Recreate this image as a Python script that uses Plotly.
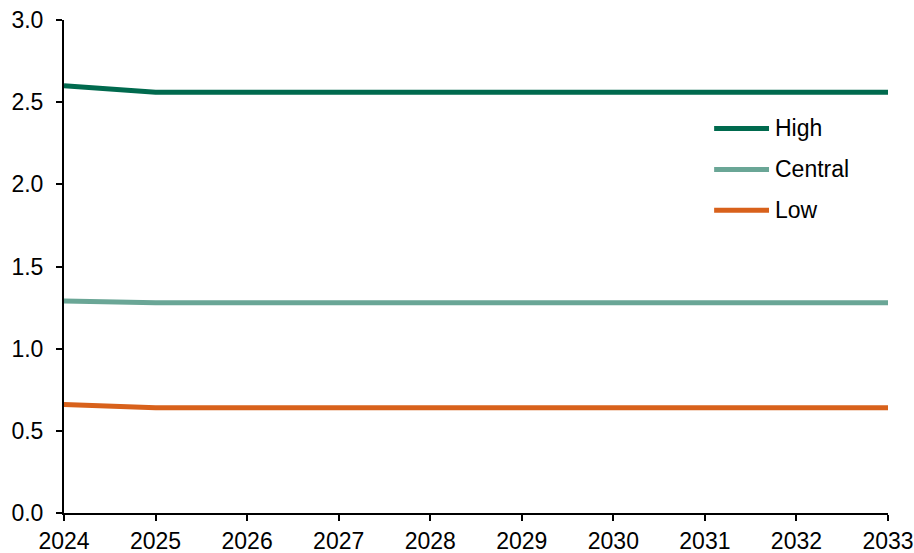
import plotly.graph_objects as go

years = [2024, 2025, 2026, 2027, 2028, 2029, 2030, 2031, 2032, 2033]
high = [2.60, 2.56, 2.56, 2.56, 2.56, 2.56, 2.56, 2.56, 2.56, 2.56]
central = [1.29, 1.28, 1.28, 1.28, 1.28, 1.28, 1.28, 1.28, 1.28, 1.28]
low = [0.66, 0.64, 0.64, 0.64, 0.64, 0.64, 0.64, 0.64, 0.64, 0.64]

series = [
    ("High", high, "#006a4e"),
    ("Central", central, "#6aa696"),
    ("Low", low, "#d8611b"),
]

FONT = "Liberation Sans, Arial, sans-serif"
FSIZE = 23

fig = go.Figure()
for name, vals, color in series:
    fig.add_trace(go.Scatter(
        x=years, y=vals, name=name, mode="lines",
        line=dict(color=color, width=5),
        showlegend=False,
    ))

# Hand-built legend: short line swatch plus label, stacked
legend_x0, legend_x1, text_x = 0.789, 0.8556, 0.8604
legend_y = [0.780, 0.697, 0.614]
for (name, _, color), ly in zip(series, legend_y):
    fig.add_shape(type="line", xref="paper", yref="paper",
                  x0=legend_x0, x1=legend_x1, y0=ly, y1=ly,
                  line=dict(color=color, width=5))
    fig.add_annotation(xref="paper", yref="paper", x=text_x, y=ly,
                       text=name, showarrow=False, xanchor="left",
                       yanchor="middle",
                       font=dict(family=FONT, size=FSIZE, color="#000000"))

axis_common = dict(
    showgrid=False, zeroline=False, showline=True, automargin=False,
    linecolor="#000000", linewidth=2,
    ticks="outside", ticklen=6, tickwidth=2, tickcolor="#000000",
    tickfont=dict(family=FONT, size=FSIZE, color="#000000"),
)

fig.update_layout(
    width=914, height=553,
    margin=dict(l=64, r=26, t=20, b=40),
    paper_bgcolor="white", plot_bgcolor="white",
    xaxis=dict(range=[2024, 2033], tickmode="array", tickvals=years,
               ticktext=[str(y) for y in years], **axis_common),
    yaxis=dict(range=[0, 3.0], tickmode="array",
               tickvals=[0, 0.5, 1.0, 1.5, 2.0, 2.5, 3.0],
               tickformat=".1f", ticklabelstandoff=8, **axis_common),
)

fig.write_html("out.html")
